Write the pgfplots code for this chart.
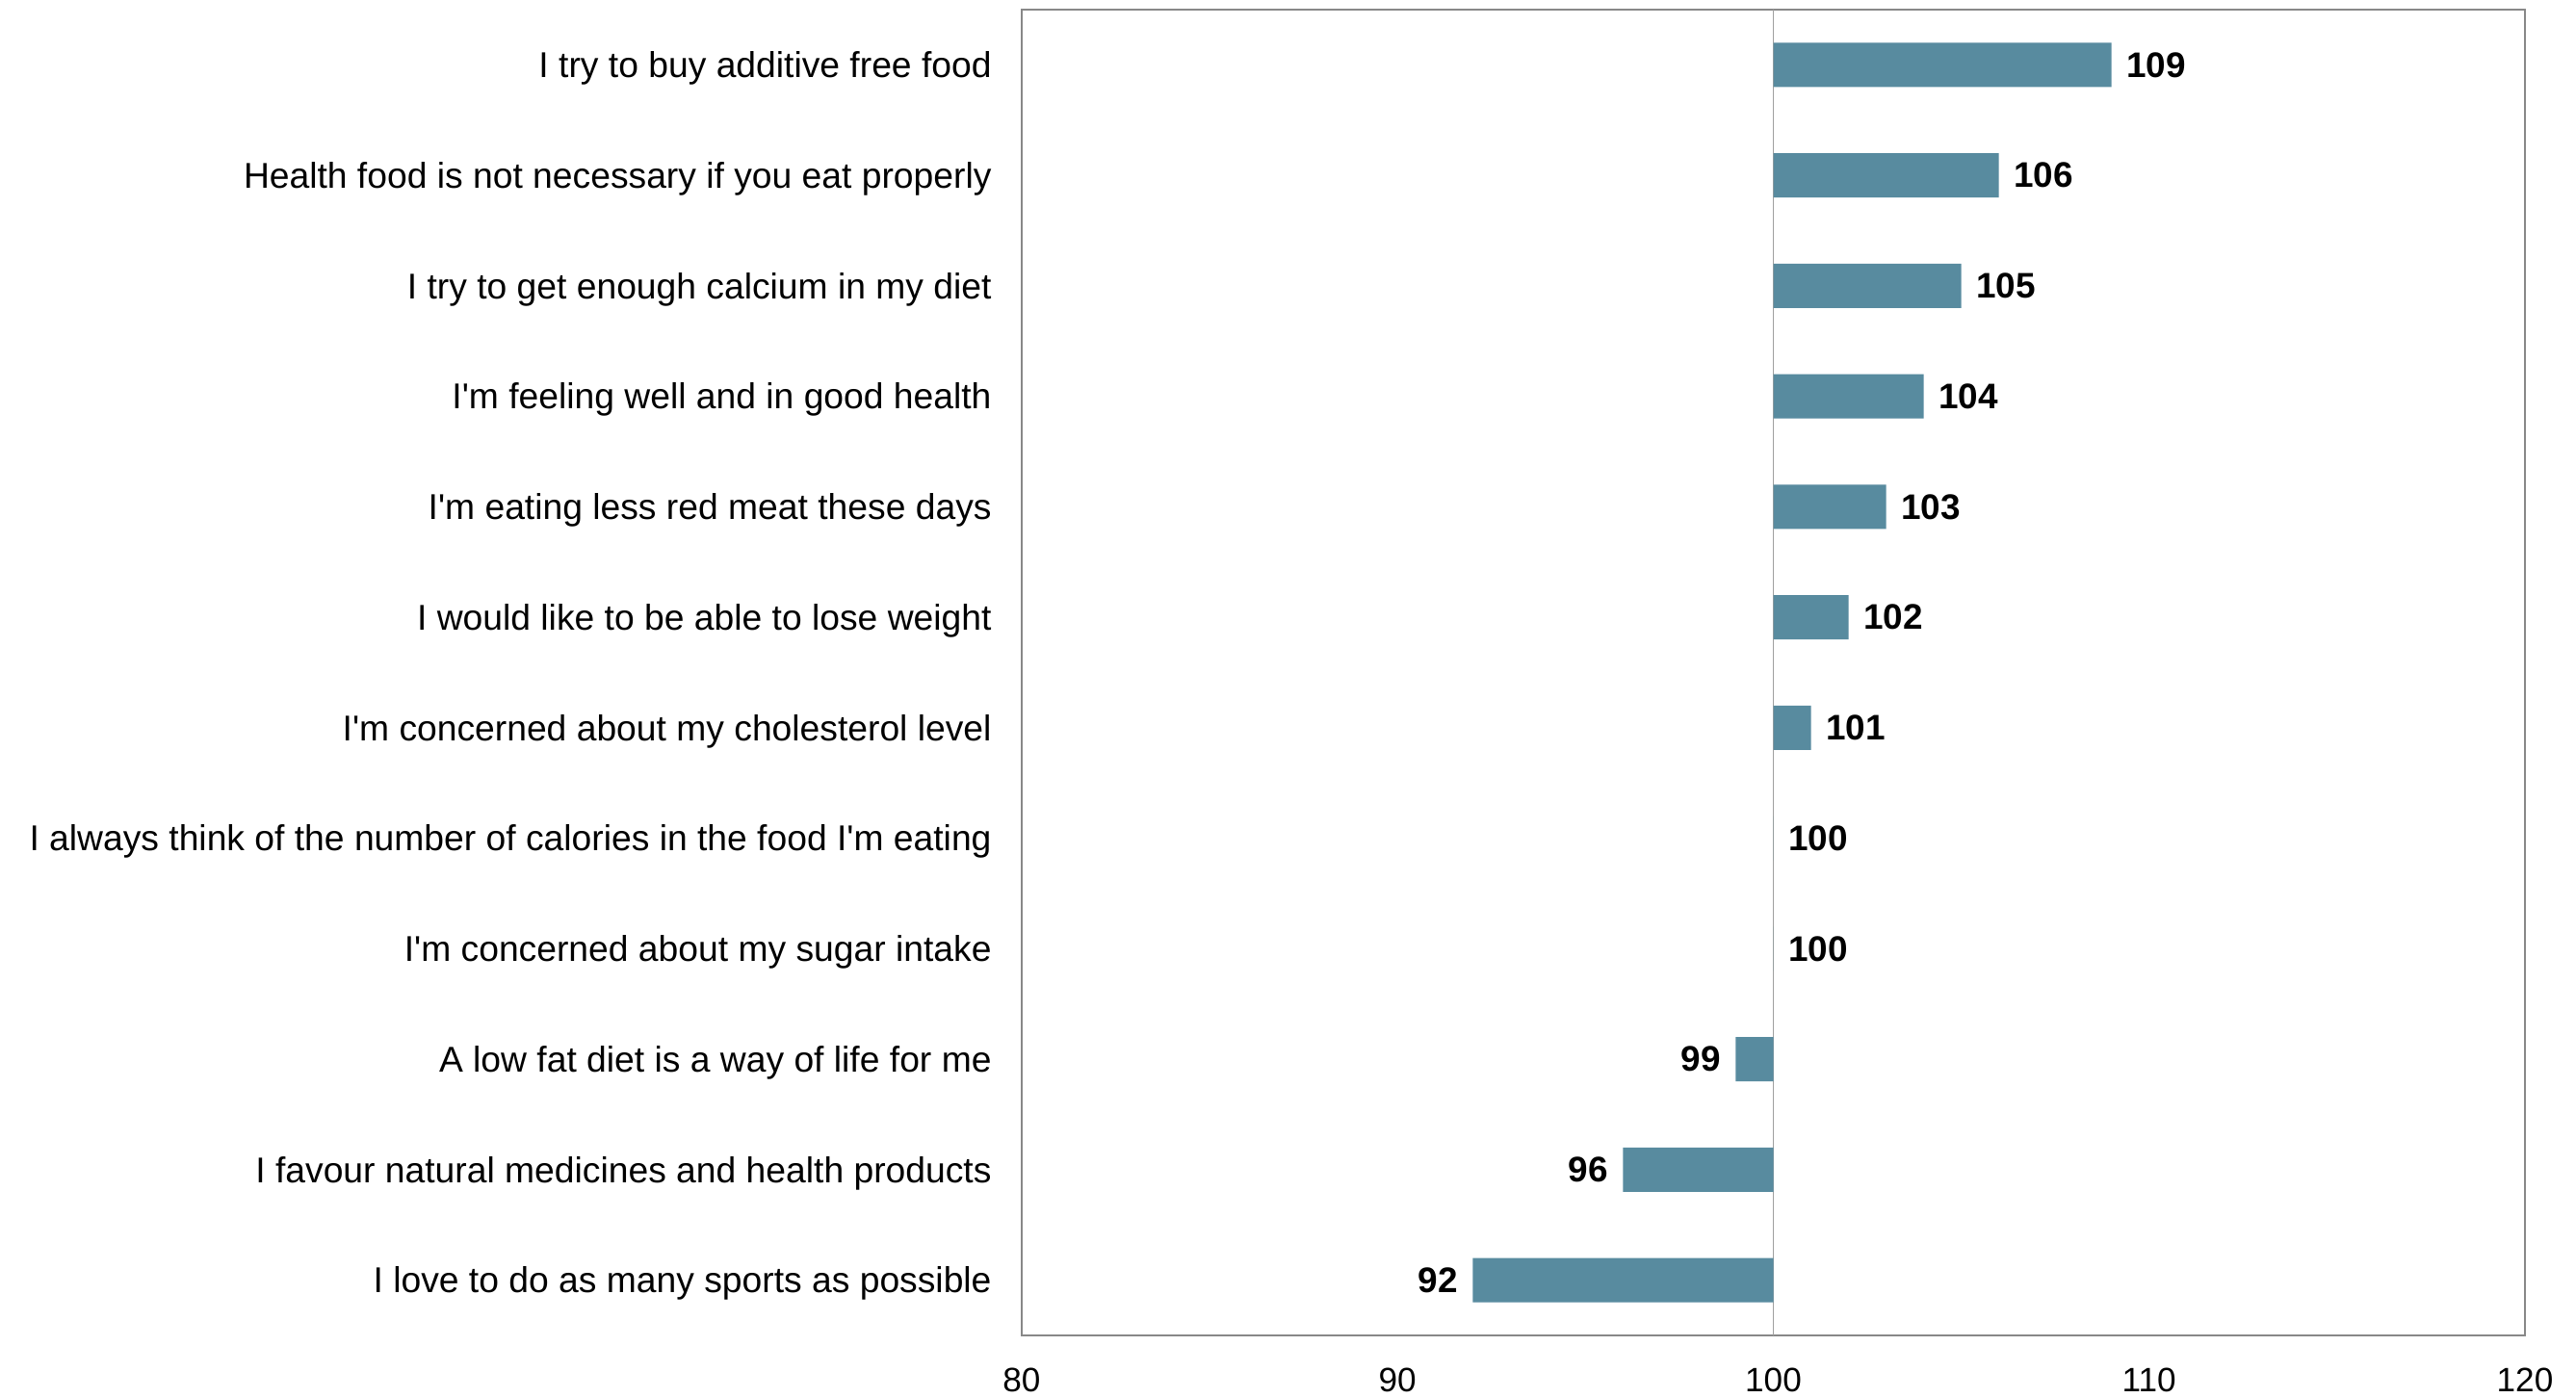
\documentclass[border=0pt]{standalone}
\usepackage{pgfplots}
\usepackage{pgfplotstable}
\pgfplotsset{compat=1.18}
\usepackage{fontspec}
\setmainfont{Liberation Sans}
\definecolor{barcol}{HTML}{588B9F}
\definecolor{axgray}{HTML}{888888}
\newcommand{\q}{\textquotesingle}
\pgfplotstableread{
idx v
0 109
1 106
2 105
3 104
4 103
5 102
6 101
7 100
8 100
}\postable
\pgfplotstableread{
idx v
9 99
10 96
11 92
}\negtable
\begin{document}
\begin{tikzpicture}
\path[use as bounding box] (0,0) rectangle (267.5mm,145.1mm);
\begin{axis}[
  at={(106.1mm,6.4mm)}, anchor=south west,
  scale only axis, width=156.1mm, height=137.7mm,
  xbar, bar width=0.4, bar shift=0pt,
  xmin=-20, xmax=20,
  ymin=-0.5, ymax=11.5, y dir=reverse,
  xtick={-20,-10,0,10,20},
  xticklabels={80,90,100,110,120},
  ytick={0,...,11},
  yticklabels={
    I try to buy additive free food,
    Health food is not necessary if you eat properly,
    I try to get enough calcium in my diet,
    I\q m feeling well and in good health,
    I\q m eating less red meat these days,
    I would like to be able to lose weight,
    I\q m concerned about my cholesterol level,
    I always think of the number of calories in the food I\q m eating,
    I\q m concerned about my sugar intake,
    A low fat diet is a way of life for me,
    I favour natural medicines and health products,
    I love to do as many sports as possible},
  major tick length=0pt,
  axis line style={axgray, line width=0.6pt},
  tick label style={font=\fontsize{10}{12}\selectfont},
  yticklabel style={font=\fontsize{10.6}{13}\selectfont, xshift=-1.9mm, yshift=-0.35mm},
  xticklabel style={yshift=-2.2mm},
  /pgf/number format/assume math mode=true,
  extra x ticks={0}, extra x tick labels={},
  extra x tick style={grid=major, major grid style={axgray!80, line width=0.45pt}},
  nodes near coords,
  point meta=explicit symbolic,
  every node near coord/.append style={font=\bfseries\fontsize{10.5}{12}\selectfont, black, inner sep=1.5mm},
]
\addplot[fill=barcol, draw=none, nodes near coords style={anchor=west}] table[x expr=\thisrow{v}-100, y=idx, meta=v] {\postable};
\addplot[fill=barcol, draw=none, nodes near coords style={anchor=east}] table[x expr=\thisrow{v}-100, y=idx, meta=v] {\negtable};
\end{axis}
\end{tikzpicture}
\end{document}
